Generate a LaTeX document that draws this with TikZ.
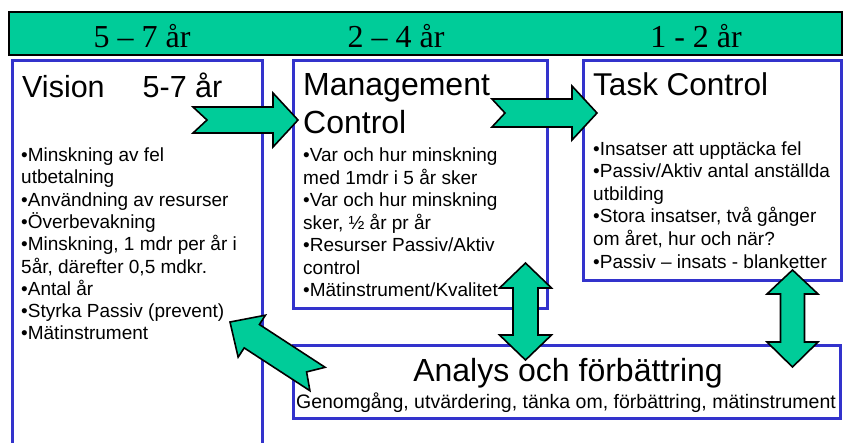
\documentclass[tikz,border=0pt]{standalone}
\usepackage{fontspec}
\setmainfont{Liberation Sans}
\newfontfamily\barfont{Liberation Serif}
\definecolor{tgreen}{RGB}{0,204,153}
\definecolor{bblue}{RGB}{51,51,204}
\begin{document}
\begin{tikzpicture}[x=1pt,y=-1pt,
  box/.style={draw=bblue, line width=3pt},
  blk/.style={fill=tgreen, draw=black, line width=1.6pt, line join=miter},
  bartext/.style={font=\barfont\fontsize{32}{38}\selectfont, anchor=base, inner sep=0pt},
  ttl/.style={font=\fontsize{31.5}{37}\selectfont, anchor=base west, inner sep=0pt},
  item/.style={font=\fontsize{19}{22}\selectfont, anchor=base west, inner sep=0pt}]
\fill[white] (0,0) rectangle (845,442);
\useasboundingbox (0,0) rectangle (845,442);
% top bar
\draw[fill=tgreen, draw=black, line width=1.5pt] (9,12) rectangle (842,55);
\node[bartext] (y1) at (142,47) {5 – 7 år};
\node[bartext] (y2) at (396,47) {2 – 4 år};
\node[bartext] (y3) at (696,47) {1 - 2 år};
% boxes
\draw[box] (12,445) -- (12,60) -- (262,60) -- (262,445);
\draw[box] (293,60) rectangle (547,308);
\draw[box] (583,60) rectangle (841,280);
\draw[box] (293,345) rectangle (840,418);
% Vision
\node[ttl, font=\fontsize{30.5}{37}\selectfont] (vt) at (22,97) {Vision\hspace{38pt}5-7 år};
\foreach \t [count=\i] in {{•Minskning av fel},{utbetalning},{•Användning av resurser},{•Överbevakning},{•Minskning, 1 mdr per år i},{5år, därefter 0,5 mdkr.},{•Antal år},{•Styrka Passiv (prevent)},{•Mätinstrument}}
  \node[item, name=v\i] at (21,{161.5+(\i-1)*22.3}) {\t};
% Management
\node[ttl, font=\fontsize{32}{37}\selectfont] (mt1) at (303,95) {Management};
\node[ttl, font=\fontsize{32}{37}\selectfont] (mt2) at (303,133) {Control};
\foreach \t [count=\i] in {{•Var och hur minskning},{med 1mdr i 5 år sker},{•Var och hur minskning},{sker, ½ år pr år},{•Resurser Passiv/Aktiv},{control},{•Mätinstrument/Kvalitet}}
  \node[item, name=m\i] at (303,{161.5+(\i-1)*22.5}) {\t};
% Task
\node[ttl] (tt) at (593,95) {Task Control};
\foreach \t [count=\i] in {{•Insatser att upptäcka fel},{•Passiv/Aktiv antal anställda},{utbilding},{•Stora insatser, två gånger},{om året, hur och när?},{•Passiv – insats - blanketter}}
  \node[item, name=t\i] at (593,{155+(\i-1)*22.6}) {\t};
% Analys
\node[font=\fontsize{32}{37}\selectfont, anchor=base, inner sep=0pt] (at) at (568,381.5) {Analys och förbättring};
\node[font=\fontsize{19.5}{22}\selectfont, anchor=base, inner sep=0pt] (as) at (566,408) {Genomgång, utvärdering, tänka om, förbättring, mätinstrument};
% arrows
\draw[blk] (193,107) -- (273,107) -- (273,93) -- (298,120) -- (273,147) -- (273,133) -- (193,133) -- (207,120) -- cycle;
\draw[blk] (492,99) -- (572,99) -- (572,86) -- (597,113) -- (572,140) -- (572,127) -- (492,127) -- (505,113) -- cycle;
\draw[blk] (525.5,263) -- (551.5,288) -- (538,288) -- (538,335) -- (551.5,335) -- (525.5,360) -- (499.5,335) -- (513,335) -- (513,288) -- (499.5,288) -- cycle;
\draw[blk] (792.5,270) -- (818,294) -- (804.5,294) -- (804.5,342) -- (818,342) -- (792.5,367) -- (767,342) -- (780.5,342) -- (780.5,294) -- (767,294) -- cycle;
\draw[blk] (230,322) -- (265.4,315.2) -- (259.4,324.5) -- (325.1,367.3) -- (306.6,371.9) -- (309.9,390.7) -- (244.2,347.9) -- (238.15,357.15) -- cycle;
\end{tikzpicture}
\end{document}
